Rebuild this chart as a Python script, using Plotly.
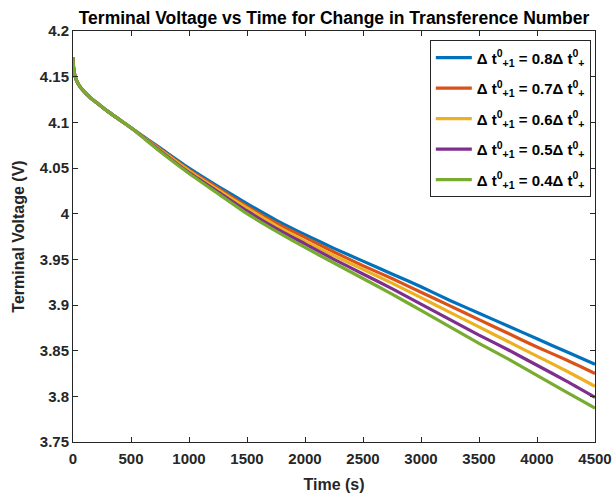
import plotly.graph_objects as go

time_s = [0, 5, 15, 30, 60, 100, 150, 200, 300, 400, 500, 750, 1000, 1250, 1500,
          1750, 2000, 2250, 2500, 2750, 3000, 3250, 3500, 3750, 4000, 4250, 4500]

early = [4.171, 4.160, 4.152, 4.146, 4.139, 4.133, 4.127, 4.122, 4.112, 4.103, 4.094]

v_08 = early + [4.072, 4.050, 4.030, 4.011, 3.993, 3.977, 3.962, 3.948, 3.934, 3.920,
                3.905, 3.891, 3.877, 3.863, 3.849, 3.835]
v_07 = early + [4.071, 4.048, 4.028, 4.008, 3.990, 3.974, 3.958, 3.943, 3.929, 3.914,
                3.899, 3.884, 3.869, 3.854, 3.840, 3.825]
v_06 = early + [4.070, 4.047, 4.026, 4.006, 3.987, 3.970, 3.954, 3.939, 3.924, 3.908,
                3.892, 3.876, 3.860, 3.844, 3.828, 3.811]
v_05 = early + [4.069, 4.045, 4.024, 4.003, 3.984, 3.967, 3.950, 3.934, 3.918, 3.901,
                3.884, 3.867, 3.851, 3.834, 3.817, 3.799]
v_04 = early + [4.068, 4.044, 4.022, 4.000, 3.981, 3.963, 3.946, 3.929, 3.912, 3.894,
                3.876, 3.858, 3.841, 3.823, 3.805, 3.787]

series_names = [
    "<b>Δ t<sup>0</sup><sub>+1</sub> = 0.8Δ t<sup>0</sup><sub>+</sub></b>",
    "<b>Δ t<sup>0</sup><sub>+1</sub> = 0.7Δ t<sup>0</sup><sub>+</sub></b>",
    "<b>Δ t<sup>0</sup><sub>+1</sub> = 0.6Δ t<sup>0</sup><sub>+</sub></b>",
    "<b>Δ t<sup>0</sup><sub>+1</sub> = 0.5Δ t<sup>0</sup><sub>+</sub></b>",
    "<b>Δ t<sup>0</sup><sub>+1</sub> = 0.4Δ t<sup>0</sup><sub>+</sub></b>",
]
series_values = [v_08, v_07, v_06, v_05, v_04]
colors = ["#0072BD", "#D95319", "#EDB120", "#7E2F8E", "#77AC30"]

x_ticks = [0, 500, 1000, 1500, 2000, 2500, 3000, 3500, 4000, 4500]
y_ticks = [3.75, 3.8, 3.85, 3.9, 3.95, 4.0, 4.05, 4.1, 4.15, 4.2]
y_ticktext = ["3.75", "3.8", "3.85", "3.9", "3.95", "4", "4.05", "4.1", "4.15", "4.2"]

FONT = "Liberation Sans, Arial, Helvetica, sans-serif"
AX = "#262626"

fig = go.Figure()
for i, (name, vals, col) in enumerate(zip(series_names, series_values, colors)):
    fig.add_trace(go.Scatter(x=time_s, y=vals, mode="lines", name=name,
                             legendgroup=f"g{i}",
                             line=dict(color=col, width=3.2, shape="spline", smoothing=0.5)))

fig.update_layout(
    width=613, height=497,
    margin=dict(l=73, r=18, t=31, b=55),
    paper_bgcolor="white", plot_bgcolor="white",
    font=dict(family=FONT, size=15, color=AX),
    title=dict(text="<b>Terminal Voltage vs Time for Change in Transference Number</b>",
               x=0.5, xref="paper", xanchor="center", y=0.965, yanchor="middle",
               font=dict(family=FONT, size=17.5, color="black")),
    legend=dict(x=0.992, y=0.977, xanchor="right", yanchor="top",
                bgcolor="white", bordercolor=AX, borderwidth=1,
                font=dict(family=FONT, size=15, color="black"),
                tracegroupgap=8, itemwidth=36),
    showlegend=True,
)
fig.update_xaxes(range=[0, 4500], tickvals=x_ticks,
                 ticktext=[f"<b>{t}</b>" for t in x_ticks],
                 ticks="inside", ticklen=5, automargin=False, ticklabelstandoff=3,
                 tickcolor=AX, showline=True, linecolor=AX, linewidth=1, mirror="ticks",
                 showgrid=False, zeroline=False,
                 tickfont=dict(family=FONT, size=15, color=AX),
                 title=dict(text="<b>Time (s)</b>", standoff=12,
                            font=dict(family=FONT, size=16, color=AX)))
fig.update_yaxes(range=[3.75, 4.2], tickvals=y_ticks,
                 ticktext=[f"<b>{t}</b>" for t in y_ticktext],
                 ticks="inside", ticklen=5, automargin=False,
                 tickcolor=AX, showline=True, linecolor=AX, linewidth=1, mirror="ticks",
                 showgrid=False, zeroline=False,
                 tickfont=dict(family=FONT, size=15, color=AX),
                 title=dict(text="<b>Terminal Voltage (V)</b>", standoff=11,
                            font=dict(family=FONT, size=16, color=AX)))

fig.write_html("out.html")
